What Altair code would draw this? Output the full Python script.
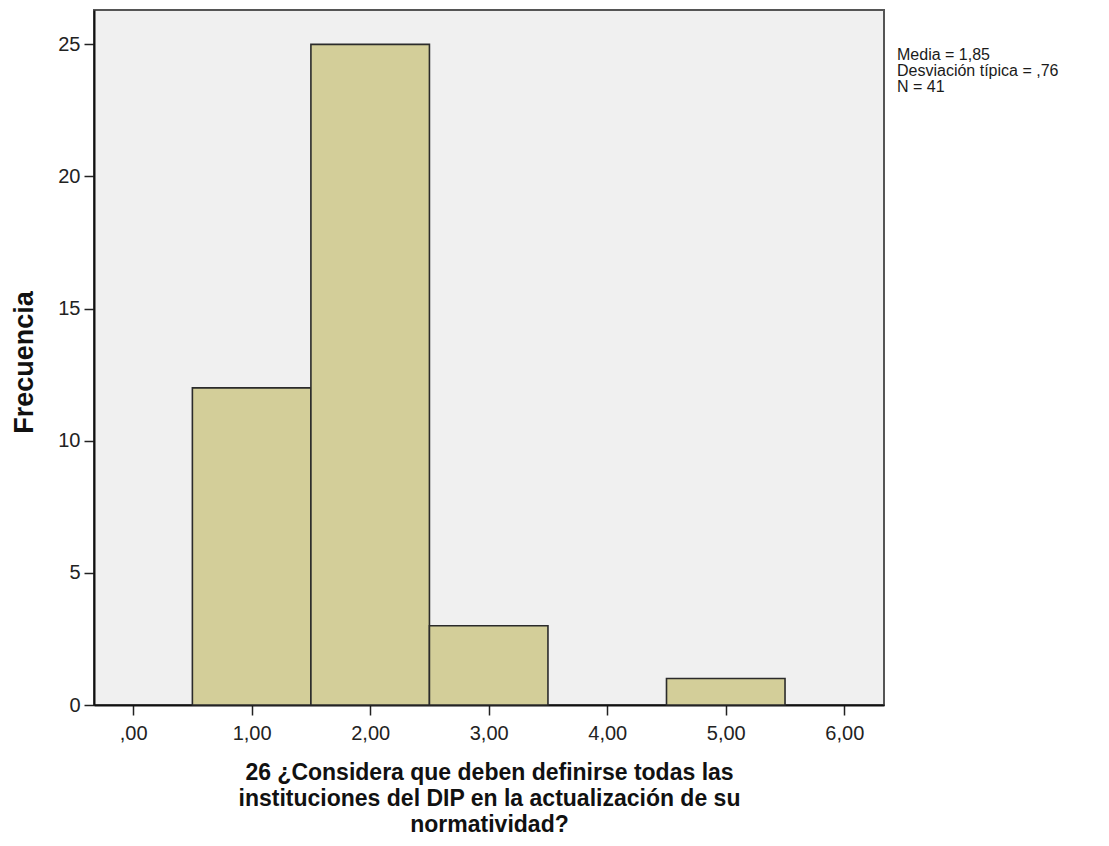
import altair as alt
import pandas as pd

# Histogram data (bin centers and frequencies)
bin_centers = [1, 2, 3, 5]
frequencies = [12, 25, 3, 1]

x_ticks = [0, 1, 2, 3, 4, 5, 6]
y_ticks = [0, 5, 10, 15, 20, 25]

stats_lines = ["Media = 1,85", "Desviación típica = ,76", "N = 41"]
x_title = ["26 ¿Considera que deben definirse todas las",
           "instituciones del DIP en la actualización de su",
           "normatividad?"]
y_title = "Frecuencia"

df = pd.DataFrame({"center": bin_centers, "freq": frequencies})
ann = pd.DataFrame({"t": ["\n".join(stats_lines)]})

FONT = "Liberation Sans"

x_scale = alt.Scale(domain=[-0.33, 6.335], nice=False, zero=False)
y_scale = alt.Scale(domain=[0, 26.3], nice=False)

bars = alt.Chart(df).transform_calculate(
    lo="datum.center - 0.5", hi="datum.center + 0.5"
).mark_rect(fill="#D3CE99", stroke="#2b2b2b", strokeWidth=1.6).encode(
    x=alt.X("lo:Q", scale=x_scale,
            axis=alt.Axis(values=x_ticks, title=x_title,
                          labelExpr="datum.value == 0 ? ',00' : replace(format(datum.value, '.2f'), '.', ',')",
                          labelFontSize=20, labelPadding=8, tickSize=10,
                          titleFontSize=23, titleFontWeight="bold", titleLineHeight=26,
                          titleX=395, titleY=56, titleAlign="center", titleBaseline="top",
                          grid=False)),
    x2="hi:Q",
    y=alt.Y("freq:Q", scale=y_scale,
            axis=alt.Axis(values=y_ticks, title=y_title, format="d",
                          labelFontSize=20, labelPadding=4, tickSize=10,
                          titleFontSize=27, titleFontWeight="bold",
                          titleX=-62, titleY=352, titleAngle=270,
                          titleAlign="center", titleBaseline="alphabetic",
                          grid=False)),
    y2=alt.datum(0),
)

text = alt.Chart(ann).mark_text(
    align="left", baseline="alphabetic", lineBreak="\n", fontSize=16,
    lineHeight=16, font=FONT, color="#1a1a1a"
).encode(
    x=alt.value(803), y=alt.value(50), text="t:N"
)

chart = alt.layer(bars, text).properties(
    width=790, height=695,
    autosize=alt.AutoSizeParams(type="none"),
    padding={"left": 86, "top": 2, "right": 217, "bottom": 133},
    background="white",
).configure(font=FONT).configure_view(
    fill="#F0F0F0", stroke="#555555", strokeWidth=2
).configure_axis(
    domainColor="#111111", domainWidth=2, tickColor="#222222", tickWidth=1.5,
    labelColor="#222222", titleColor="#111111", labelFont=FONT, titleFont=FONT
)

chart.save("out.html", embed_options={"renderer": "svg", "actions": False})
